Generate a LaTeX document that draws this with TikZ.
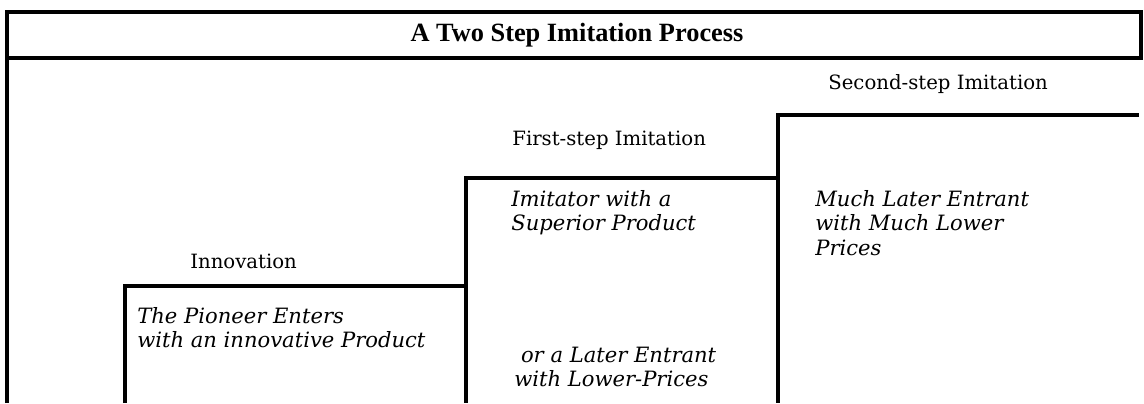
\documentclass[tikz,border=0pt]{standalone}
\usepackage{fontspec}
\setmainfont{DejaVu Serif}
\newfontfamily\titlefont{Liberation Serif}
\usetikzlibrary{positioning}

\tikzset{
  frame/.style={line width=2pt, line join=miter},
  steplabel/.style={anchor=west, inner sep=0pt, font=\fontsize{11.2}{13.6}\selectfont},
  entrant/.style={anchor=west, inner sep=0pt, align=left, font=\fontsize{12}{13.8}\selectfont\itshape},
}

\begin{document}
\begin{tikzpicture}[x=.02cm, y=-.02cm]
  \useasboundingbox (0,0) rectangle (1144,403);
  % title frame
  \draw [frame] (7,403) coordinate (bl)
  -- (7,12) coordinate (tl) -- (1141,12) coordinate (tr)
  -- (1141,58) coordinate (br) -- (tl |- br) coordinate (ml);
  \node (title) at (577,35)
  {\titlefont\bfseries\fontsize{15}{18}\selectfont A Two Step Imitation Process};
  % the steps
  \draw [frame] (125,403) -- (125,286) coordinate (a)
  -- (466,286) coordinate (b) -- (466,178) coordinate (c)
  -- (778,178) coordinate (d) -- (778,115) coordinate (e)
  -- (1139,115) coordinate (f);
  \draw [frame] (b) -- (b |- bl);
  \draw [frame] (d) -- (d |- bl);
  \node [steplabel] (innov) at (190,261) {Innovation};
  \node [steplabel] (first) at (512,140) {First-step Imitation};
  \node [steplabel] (second) at (828,84) {Second-step Imitation};
  \node [entrant] (pioneer) at (137,328)
  {The Pioneer Enters\\with an innovative Product};
  \node [entrant] (superior) at (511,213)
  {Imitator with a\\Superior Product};
  \node [entrant] (later) at (514,367)
  {\ or a Later Entrant\\with Lower-Prices};
  \node [entrant] (muchlater) at (815,223)
  {Much Later Entrant\\with Much Lower\\Prices};
\end{tikzpicture}
\end{document}
